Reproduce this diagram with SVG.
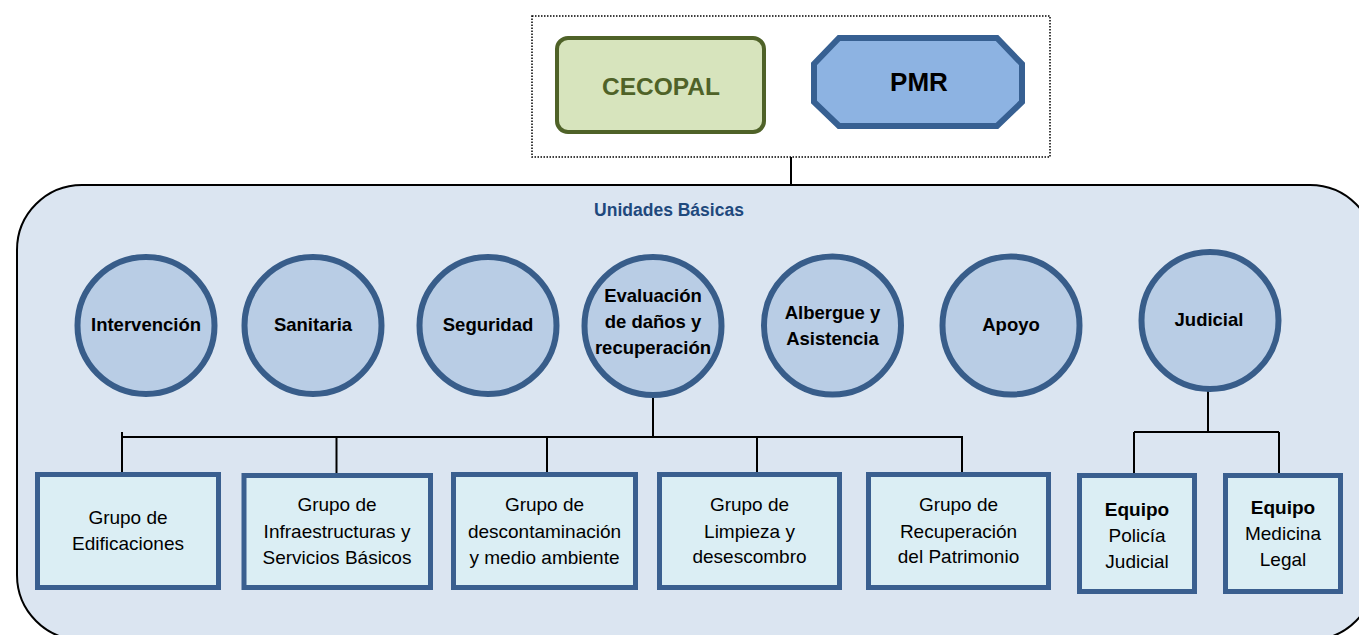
<svg xmlns="http://www.w3.org/2000/svg" width="1359" height="635" viewBox="0 0 1359 635">
<style>
.unit{fill:#b9cde5;stroke:#385d8a;stroke-width:6}
.grp{fill:#dbeef4;stroke:#3a5f8f;stroke-width:5}
.ct{font-family:"Liberation Sans",Arial,sans-serif;font-weight:bold;font-size:18.5px;fill:#000;text-anchor:middle}
.bt{font-family:"Liberation Sans",Arial,sans-serif;font-size:19px;fill:#000;text-anchor:middle}
.bb{font-weight:bold}
.conn{stroke:#000;stroke-width:2;fill:none}
</style>
<rect width="1359" height="635" fill="#ffffff"/>
<g id="top-group">
<rect x="532" y="16" width="518" height="141" fill="none" stroke="#000" stroke-width="1.5" stroke-dasharray="1.5,1.5"/>
</g>
<g id="cecopal">
<rect x="557" y="38" width="207" height="94" rx="11" fill="#d7e4bd" stroke="#4f6228" stroke-width="4"/>
<text x="661" y="95" font-family="Liberation Sans,Arial,sans-serif" font-weight="bold" font-size="24.5" fill="#4f6228" text-anchor="middle">CECOPAL</text>
</g>
<g id="pmr">
<polygon points="839,38 997,38 1022,64 1022,102 997,126 839,126 814,102 814,64" fill="#8db3e2" stroke="#376092" stroke-width="6"/>
<text x="919" y="91" font-family="Liberation Sans,Arial,sans-serif" font-weight="bold" font-size="26" fill="#000" text-anchor="middle">PMR</text>
</g>
<g id="unidades-basicas">
<rect x="17" y="185" width="1358" height="455" rx="65" fill="#dbe5f1" stroke="#000" stroke-width="2"/>
<text x="669" y="216" font-family="Liberation Sans,Arial,sans-serif" font-weight="bold" font-size="17.5" fill="#1f497d" text-anchor="middle">Unidades Básicas</text>
</g>
<g id="connectors">
<path class="conn" d="M791,157 V185"/>
<path class="conn" d="M653,397 V437"/>
<path class="conn" d="M122,437 H963"/>
<path class="conn" d="M122,432 V472"/>
<path class="conn" d="M336.5,437 V476"/>
<path class="conn" d="M547,437 V478"/>
<path class="conn" d="M757,437 V476"/>
<path class="conn" d="M962,437 V472"/>
<path class="conn" d="M1208,391 V432"/>
<path class="conn" d="M1134,432 H1279"/>
<path class="conn" d="M1134,432 V475"/>
<path class="conn" d="M1279,432 V475"/>
</g>
<g id="intervencion">
<circle class="unit" cx="146" cy="325.5" r="68.5"/>
<text class="ct" x="146" y="331">Intervención</text>
</g>
<g id="sanitaria">
<circle class="unit" cx="313" cy="325.5" r="68.5"/>
<text class="ct" x="313" y="331">Sanitaria</text>
</g>
<g id="seguridad">
<circle class="unit" cx="488" cy="325.5" r="68.5"/>
<text class="ct" x="488" y="331">Seguridad</text>
</g>
<g id="evaluacion">
<ellipse class="unit" cx="653" cy="326" rx="68.5" ry="69"/>
<text class="ct" x="653" y="302">Evaluación</text>
<text class="ct" x="653" y="328">de daños y</text>
<text class="ct" x="653" y="354">recuperación</text>
</g>
<g id="albergue">
<ellipse class="unit" cx="832.5" cy="325.5" rx="68.5" ry="69"/>
<text class="ct" x="832.5" y="319">Albergue y</text>
<text class="ct" x="832.5" y="345">Asistencia</text>
</g>
<g id="apoyo">
<ellipse class="unit" cx="1011" cy="325.5" rx="68.5" ry="69"/>
<text class="ct" x="1011" y="331">Apoyo</text>
</g>
<g id="judicial">
<circle class="unit" cx="1210" cy="320.5" r="68.5"/>
<text class="ct" x="1209" y="326">Judicial</text>
</g>
<g id="edificaciones">
<rect class="grp" x="37.5" y="474.5" width="181" height="113"/>
<text class="bt" x="128" y="524">Grupo de</text>
<text class="bt" x="128" y="550">Edificaciones</text>
</g>
<g id="infraestructuras">
<rect class="grp" x="244" y="475.5" width="186.5" height="112"/>
<text class="bt" x="337" y="511">Grupo de</text>
<text class="bt" x="337" y="538">Infraestructuras y</text>
<text class="bt" x="337" y="564">Servicios Básicos</text>
</g>
<g id="descontaminacion">
<rect class="grp" x="453.5" y="474.5" width="182" height="113"/>
<text class="bt" x="544.5" y="511">Grupo de</text>
<text class="bt" x="544.5" y="538">descontaminación</text>
<text class="bt" x="544.5" y="564">y medio ambiente</text>
</g>
<g id="limpieza">
<rect class="grp" x="659.5" y="474.5" width="180" height="113"/>
<text class="bt" x="749.5" y="511">Grupo de</text>
<text class="bt" x="749.5" y="538">Limpieza y</text>
<text class="bt" x="749.5" y="563">desescombro</text>
</g>
<g id="patrimonio">
<rect class="grp" x="868.5" y="474.5" width="180" height="113"/>
<text class="bt" x="958.5" y="511">Grupo de</text>
<text class="bt" x="958.5" y="538">Recuperación</text>
<text class="bt" x="958.5" y="563">del Patrimonio</text>
</g>
<g id="policia-judicial">
<rect class="grp" x="1079.5" y="475.5" width="115" height="116"/>
<text class="bt bb" x="1137" y="516">Equipo</text>
<text class="bt" x="1137" y="542">Policía</text>
<text class="bt" x="1137" y="568">Judicial</text>
</g>
<g id="medicina-legal">
<rect class="grp" x="1225.5" y="475.5" width="115" height="116"/>
<text class="bt bb" x="1283" y="514">Equipo</text>
<text class="bt" x="1283" y="540">Medicina</text>
<text class="bt" x="1283" y="566">Legal</text>
</g>
</svg>
